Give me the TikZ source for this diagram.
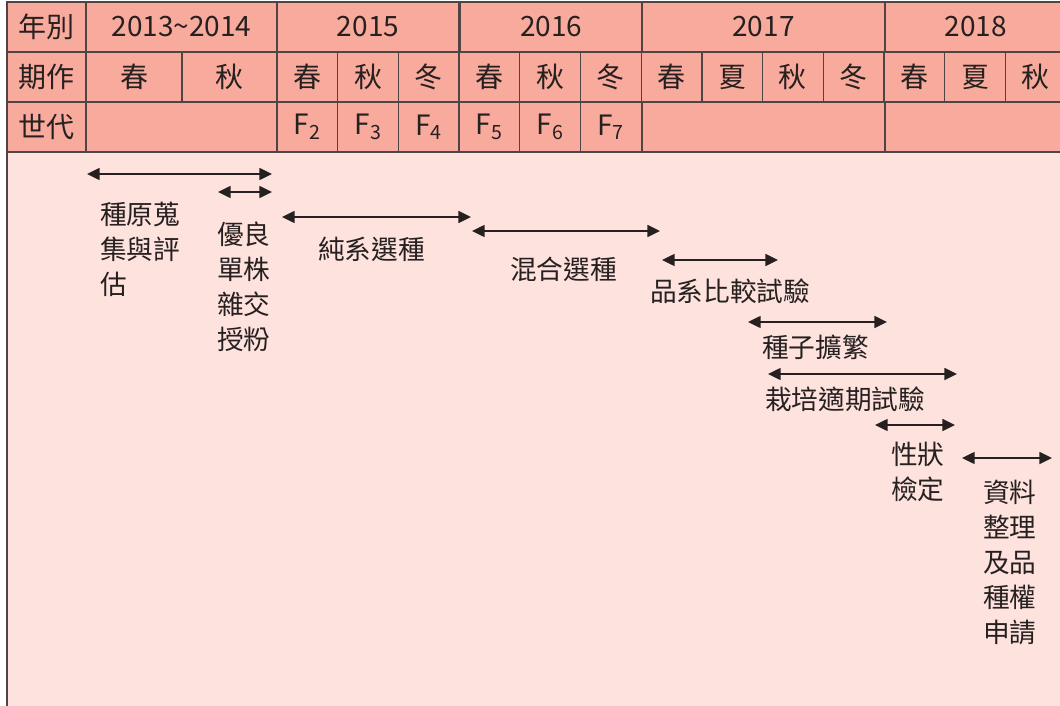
\documentclass[tikz,border=0pt]{standalone}
\usepackage{fontspec}
\setmainfont{Noto Sans CJK TC}
\usetikzlibrary{arrows.meta}

\definecolor{headpink}{RGB}{248,170,157}
\definecolor{bodypink}{RGB}{253,226,221}
\definecolor{gridline}{RGB}{80,68,68}
\definecolor{inkgray}{RGB}{38,32,32}

\begin{document}
\begin{tikzpicture}[
        x=0.75pt, y=-0.75pt,
        cell/.style={rectangle, draw=gridline, fill=headpink, line width=1pt,
                     minimum width=#1*0.75pt, minimum height=37.5pt, inner sep=0pt,
                     text=inkgray, font=\fontsize{21}{24}\selectfont},
        stage/.style={anchor=north west, align=left, inner sep=0pt, text=inkgray,
                      font=\fontsize{20}{26.25}\selectfont},
        period/.style={line width=1.1pt, draw=inkgray,
                       {Triangle[length=9.5pt, width=9pt]}-{Triangle[length=9.5pt, width=9pt]}}
    ]
        \useasboundingbox (0,0) rectangle (1060,706);
        \clip (0,0) rectangle (1060,706);
        \fill[bodypink] (7,152) rectangle (1075,715);
        \draw[gridline, line width=1.2pt] (7,2) -- (7,715);

        % year row
        \node[cell=79] (yearhead) at (46.5,27) {年別};
        \node[cell=191] (y1314) at (181.5,27) {2013\textasciitilde 2014};
        \node[cell=182.1] (y2015) at (368.05,27) {2015};
        \node[cell=182.1] (y2016) at (551.15,27) {2016};
        \node[cell=242.8] (y2017) at (763.5,27) {2017};
        \node[cell=182.1] (y2018) at (975.95,27) {2018};

        % season row
        \node[cell=79] (seasonhead) at (46.5,77) {期作};
        \node[cell=96] (s13a) at (134,77) {春};
        \node[cell=95] (s13b) at (229.5,77) {秋};
        \node[cell=60.7] (s15a) at (307.35,77) {春};
        \node[cell=60.7] (s15b) at (368.05,77) {秋};
        \node[cell=60.7] (s15c) at (428.75,77) {冬};
        \node[cell=60.7] (s16a) at (489.45,77) {春};
        \node[cell=60.7] (s16b) at (550.15,77) {秋};
        \node[cell=60.7] (s16c) at (610.85,77) {冬};
        \node[cell=60.7] (s17a) at (671.55,77) {春};
        \node[cell=60.7] (s17b) at (732.25,77) {夏};
        \node[cell=60.7] (s17c) at (792.95,77) {秋};
        \node[cell=60.7] (s17d) at (853.65,77) {冬};
        \node[cell=60.7] (s18a) at (914.35,77) {春};
        \node[cell=60.7] (s18b) at (975.05,77) {夏};
        \node[cell=60.7] (s18c) at (1035.75,77) {秋};

        % generation row
        \node[cell=79] (genhead) at (46.5,127) {世代};
        \node[cell=191] (g1314) at (181.5,127) {};
        \node[cell=60.7] (gf2) at (307.35,127) {F\textsubscript{2}};
        \node[cell=60.7] (gf3) at (368.05,127) {F\textsubscript{3}};
        \node[cell=60.7] (gf4) at (428.75,127) {F\textsubscript{4}};
        \node[cell=60.7] (gf5) at (489.45,127) {F\textsubscript{5}};
        \node[cell=60.7] (gf6) at (550.15,127) {F\textsubscript{6}};
        \node[cell=60.7] (gf7) at (610.85,127) {F\textsubscript{7}};
        \node[cell=242.8] (g2017) at (763.5,127) {};
        \node[cell=182.1] (g2018) at (975.95,127) {};

        % stages
        \node[stage] (collect) at (100,202) {種原蒐\\集與評\\估};
        \node[stage] (cross) at (217,222) {優良\\單株\\雜交\\授粉};
        \node[stage] (pureline) at (318,237) {純系選種};
        \node[stage] (mixed) at (510,257) {混合選種};
        \node[stage] (linetrial) at (650,279) {品系比較試驗};
        \node[stage] (seedup) at (762,335) {種子擴繁};
        \node[stage] (sowtrial) at (765,387) {栽培適期試驗};
        \node[stage] (traits) at (891,442) {性狀\\檢定};
        \node[stage] (filing) at (983,480) {資料\\整理\\及品\\種權\\申請};

        % time spans
        \coordinate (collectL) at (87,174);   \coordinate (collectR) at (272,174);
        \coordinate (crossL) at (218,192);    \coordinate (crossR) at (272,192);
        \coordinate (pureL) at (282,217);     \coordinate (pureR) at (471,217);
        \coordinate (mixedL) at (472,231);    \coordinate (mixedR) at (660,231);
        \coordinate (lineL) at (662,260);     \coordinate (lineR) at (778,260);
        \coordinate (seedL) at (748,322);     \coordinate (seedR) at (887,322);
        \coordinate (sowL) at (768,374);      \coordinate (sowR) at (957,374);
        \coordinate (traitL) at (875,425);    \coordinate (traitR) at (955,425);
        \coordinate (fileL) at (962,458);     \coordinate (fileR) at (1052,458);

        \draw[period] (collectL) -- (collectR);
        \draw[period] (crossL) -- (crossR);
        \draw[period] (pureL) -- (pureR);
        \draw[period] (mixedL) -- (mixedR);
        \draw[period] (lineL) -- (lineR);
        \draw[period] (seedL) -- (seedR);
        \draw[period] (sowL) -- (sowR);
        \draw[period] (traitL) -- (traitR);
        \draw[period] (fileL) -- (fileR);
\end{tikzpicture}
\end{document}
